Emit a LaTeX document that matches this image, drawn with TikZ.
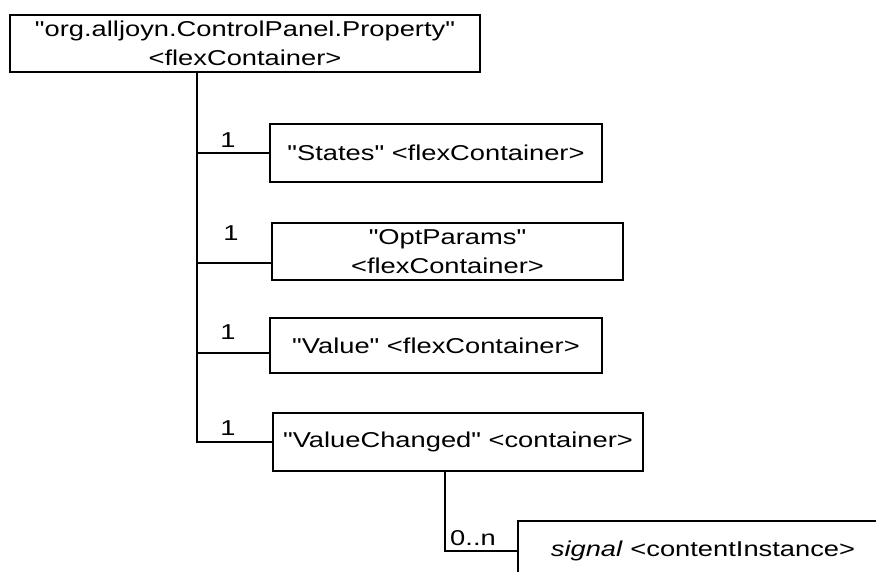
\documentclass[tikz,border=0pt]{standalone}
\usepackage{fontspec}
\setmainfont{Liberation Sans}[FakeStretch=1.27, Ligatures=TeXOff]
\begin{document}
\begin{tikzpicture}[x=1pt,y=-1pt,
  box/.style={draw, line width=1.2pt, inner sep=0pt, align=center, font=\fontsize{21.5}{29.5}\selectfont},
  conn/.style={line width=1.2pt},
  mult/.style={font=\fontsize{21.5}{25}\selectfont, inner sep=0pt}]
\useasboundingbox (0,0) rectangle (876,571);
\fill[white] (0,0) rectangle (876,571);
\clip (0,0) rectangle (876,571);
\node[box, minimum width=470pt, minimum height=57pt] (top) at (245,43.5) {"org.alljoyn.ControlPanel.Property"\\<flexContainer>};
\node[box, minimum width=332pt, minimum height=58pt] (states) at (436,153) {"States" <flexContainer>};
\node[box, minimum width=351pt, minimum height=57pt] (opt) at (447.5,251.5) {"OptParams"\\<flexContainer>};
\node[box, minimum width=332pt, minimum height=55pt] (value) at (436,345.5) {"Value" <flexContainer>};
\node[box, minimum width=370pt, minimum height=58pt] (vc) at (458,442) {"ValueChanged" <container>};
\node[box, minimum width=370pt, minimum height=60pt] (sig) at (703,551) {\textit{signal} <contentInstance>};
\coordinate (sp) at (197,0);
\coordinate (optc) at (0,263);
\coordinate (valc) at (0,353);
\coordinate (sb) at (445,0);
\draw[conn] (top.south -| sp) |- (vc.west);
\draw[conn] (sp |- states.west) -- (states.west);
\draw[conn] (sp |- optc) -- (opt.west |- optc);
\draw[conn] (sp |- valc) -- (value.west |- valc);
\draw[conn] (vc.south -| sb) |- (sig.west);
\node[mult] (m1) at (228,140) {1};
\node[mult] (m2) at (231,233) {1};
\node[mult] (m3) at (228,332) {1};
\node[mult] (m4) at (228,428) {1};
\node[mult] (m5) at (473,538) {0..n};
\end{tikzpicture}
\end{document}
